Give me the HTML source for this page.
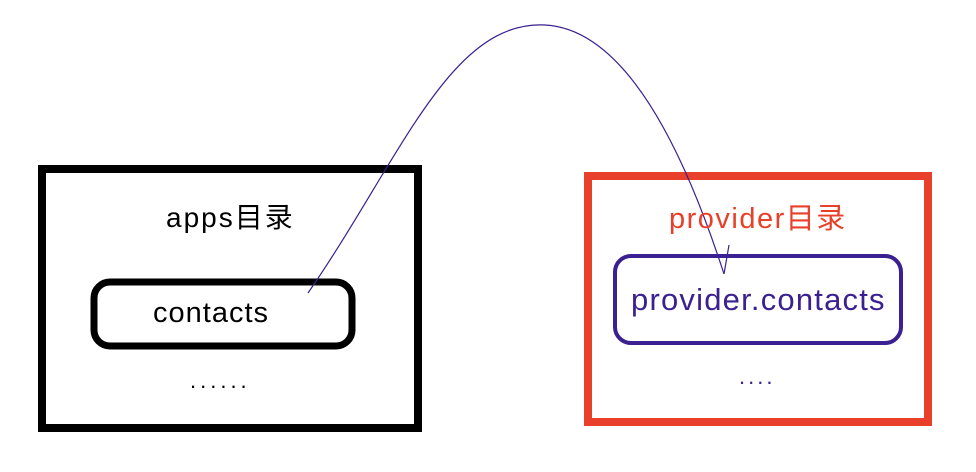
<!DOCTYPE html>
<html><head><meta charset="utf-8"><style>
body{margin:0;background:#fff;width:976px;height:472px;overflow:hidden;position:relative;font-family:"Liberation Sans","Noto Sans CJK SC",sans-serif}
.t{position:absolute;white-space:nowrap;line-height:1}
</style></head><body>
<svg width="976" height="472" style="position:absolute;left:0;top:0">
<rect x="42" y="169" width="376" height="259" fill="none" stroke="#000" stroke-width="8"/>
<rect x="94" y="282" width="258" height="64" rx="16" fill="none" stroke="#000" stroke-width="7"/>
<rect x="588" y="176" width="340" height="246" fill="none" stroke="#e8402a" stroke-width="8"/>
<rect x="615" y="256" width="286" height="87" rx="16" fill="none" stroke="#3a2090" stroke-width="4"/>
<path d="M308 293 C 400 160, 450 20, 545 25 C 640 30, 700 200, 724 274" fill="none" stroke="#3a2090" stroke-width="1.2"/>
<path d="M724 274 L729 245" fill="none" stroke="#3a2090" stroke-width="1.2"/>
</svg>
<div class="t" style="left:166px;top:204px;font-size:28px;letter-spacing:2px;color:#000">apps目录</div>
<div class="t" style="left:153px;top:299px;font-size:29px;letter-spacing:1px;color:#000">contacts</div>
<div class="t" style="left:190px;top:370px;font-size:22px;letter-spacing:4px;color:#000">......</div>
<div class="t" style="left:669px;top:205px;font-size:29px;letter-spacing:1.5px;color:#e8402a">provider目录</div>
<div class="t" style="left:631px;top:284px;font-size:31px;letter-spacing:1.2px;color:#3a2090">provider.contacts</div>
<div class="t" style="left:739px;top:366px;font-size:22px;letter-spacing:3px;color:#3a2090">....</div>
</body></html>
